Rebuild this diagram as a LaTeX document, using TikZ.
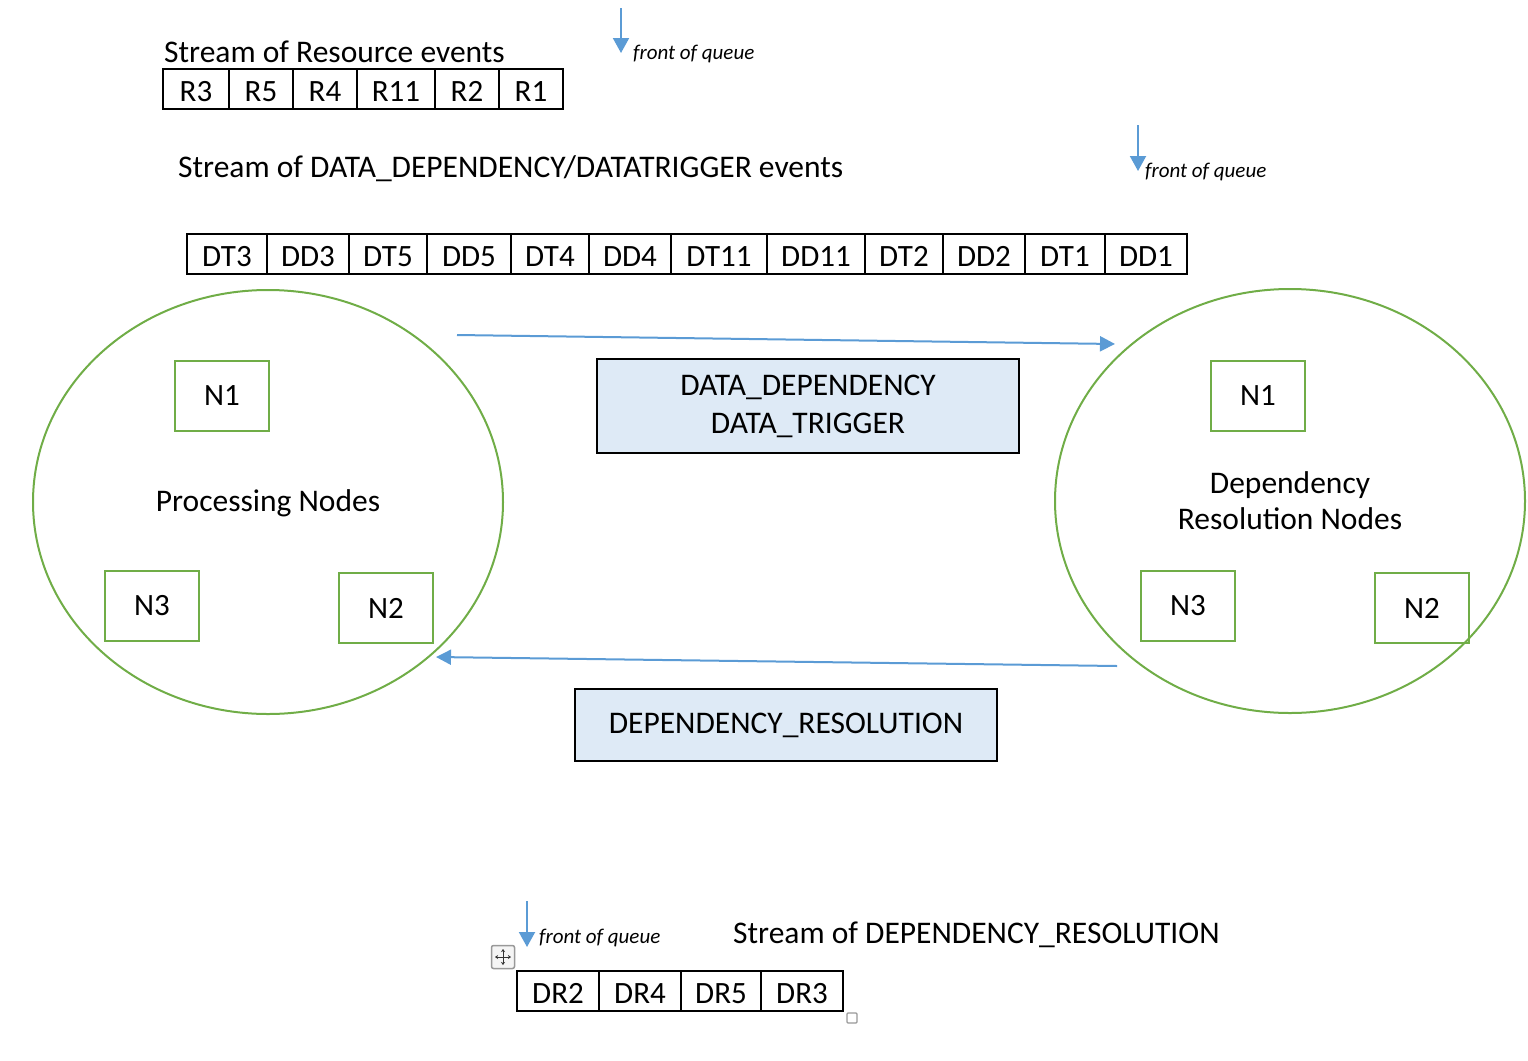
\documentclass[tikz,border=0pt]{standalone}
\usepackage{fontspec}
\setmainfont{Carlito}
\usetikzlibrary{arrows.meta,shapes.geometric}
\definecolor{arrblue}{HTML}{5B9BD5}
\definecolor{grn}{HTML}{70AD47}
\definecolor{boxfill}{HTML}{DEEAF6}
\tikzset{
  txt/.style={font=\fontsize{31.5}{36}\selectfont, inner sep=0pt},
  foq/.style={font=\fontsize{21}{24}\selectfont\itshape, inner sep=0pt, anchor=west},
  cell/.style={draw=black, line width=2pt, minimum height=40pt, inner sep=0pt, font=\fontsize{31}{36}\selectfont, text height=24pt, text depth=0pt},
  nbox/.style={draw=grn, line width=2pt, minimum width=94pt, minimum height=70pt, inner sep=0pt, font=\fontsize{31}{36}\selectfont},
  ell/.style={draw=grn, line width=2pt, ellipse, minimum width=470pt, minimum height=424pt, inner sep=0pt},
  msgbox/.style={draw=black, line width=2pt, fill=boxfill, inner sep=0pt, font=\fontsize{31.5}{38}\selectfont, align=center},
  flow/.style={draw=arrblue, line width=2pt, -{Triangle[width=15pt,length=15pt]}},
  down/.style={draw=arrblue, line width=2pt, -{Triangle[width=16pt,length=15pt]}},
}
\begin{document}
\begin{tikzpicture}[x=1pt,y=-1pt]
\useasboundingbox (0,0) rectangle (1528,1060);
% --- Resource stream
\node[txt, anchor=west] (t1) at (164,52) {Stream of Resource events};
\foreach \lab/\a/\b [count=\i] in {R3/163/229, R5/229/293, R4/293/357, R11/357/435, R2/435/499, R1/499/563}
  \node[cell, minimum width={(\b-\a)*1pt}] (r\i) at ({(\a+\b)/2},89) {\lab};
\coordinate (f1s) at (621,8);
\coordinate (f1e) at (621,53);
\draw[down] (f1s) -- (f1e);
\node[foq] (f1t) at (633,54) {front of queue};
% --- DD/DT stream
\node[txt, anchor=west] (t2) at (178,169) {Stream of DATA\_DEPENDENCY/DATATRIGGER events};
\foreach \lab/\a/\b [count=\i] in {DT3/187/267, DD3/267/349, DT5/349/427, DD5/427/511, DT4/511/589, DD4/589/671, DT11/671/767, DD11/767/865, DT2/865/943, DD2/943/1025, DT1/1025/1105, DD1/1105/1187}
  \node[cell, minimum width={(\b-\a)*1pt}] (d\i) at ({(\a+\b)/2},254) {\lab};
\coordinate (f2s) at (1138,125);
\coordinate (f2e) at (1138,171);
\draw[down] (f2s) -- (f2e);
\node[foq] (f2t) at (1145,172) {front of queue};
% --- Processing nodes
\node[ell] (pe) at (268,502) {};
\node[nbox] (pn1) at (222,396) {N1};
\node[nbox] (pn3) at (152,606) {N3};
\node[nbox] (pn2) at (386,608) {N2};
\node[txt] (pl) at (268,503) {Processing Nodes};
% --- Dependency resolution nodes
\node[ell] (de) at (1290,501) {};
\node[nbox] (dn1) at (1258,396) {N1};
\node[nbox] (dn3) at (1188,606) {N3};
\node[nbox] (dn2) at (1422,608) {N2};
\node[txt, align=center, font=\fontsize{31.5}{36}\selectfont] (dl) at (1290,501) {Dependency\\Resolution Nodes};
% --- flows
\coordinate (a1s) at (457,335);
\coordinate (a1e) at (1115,344);
\draw[flow] (a1s) -- (a1e);
\node[msgbox, minimum width=422pt, minimum height=94pt] (m1) at (808,406) {DATA\_DEPENDENCY\\DATA\_TRIGGER};
\coordinate (a2s) at (1117,666);
\coordinate (a2e) at (436,657);
\draw[flow] (a2s) -- (a2e);
\node[msgbox, minimum width=422pt, minimum height=72pt] (m2) at (786,725) {DEPENDENCY\_RESOLUTION};
% --- DR stream
\coordinate (f3s) at (527,901);
\coordinate (f3e) at (527,947);
\draw[down] (f3s) -- (f3e);
\node[foq] (f3t) at (539,938) {front of queue};
\node[txt, anchor=west] (t3) at (733,935) {Stream of DEPENDENCY\_RESOLUTION};
\foreach \lab/\a/\b [count=\i] in {DR2/517/599, DR4/599/681, DR5/681/761, DR3/761/843}
  \node[cell, minimum width={(\b-\a)*1pt}] (q\i) at ({(\a+\b)/2},991) {\lab};
% --- editor handles
\node[draw=gray!80, fill=gray!8, line width=1.5pt, rounded corners=2pt, minimum size=23pt, inner sep=0pt] (mv) at (503,957) {};
\draw[black!80, line width=1pt, {Stealth[length=3pt,width=4pt]}-{Stealth[length=3pt,width=4pt]}] (mv.center) ++(-8,0) -- ++(16,0);
\draw[black!80, line width=1pt, {Stealth[length=3pt,width=4pt]}-{Stealth[length=3pt,width=4pt]}] (mv.center) ++(0,-8) -- ++(0,16);
\node[draw=gray!80, fill=white, line width=1.2pt, rounded corners=1pt, minimum size=10pt, inner sep=0pt] (rs) at (852,1018) {};
\end{tikzpicture}
\end{document}
